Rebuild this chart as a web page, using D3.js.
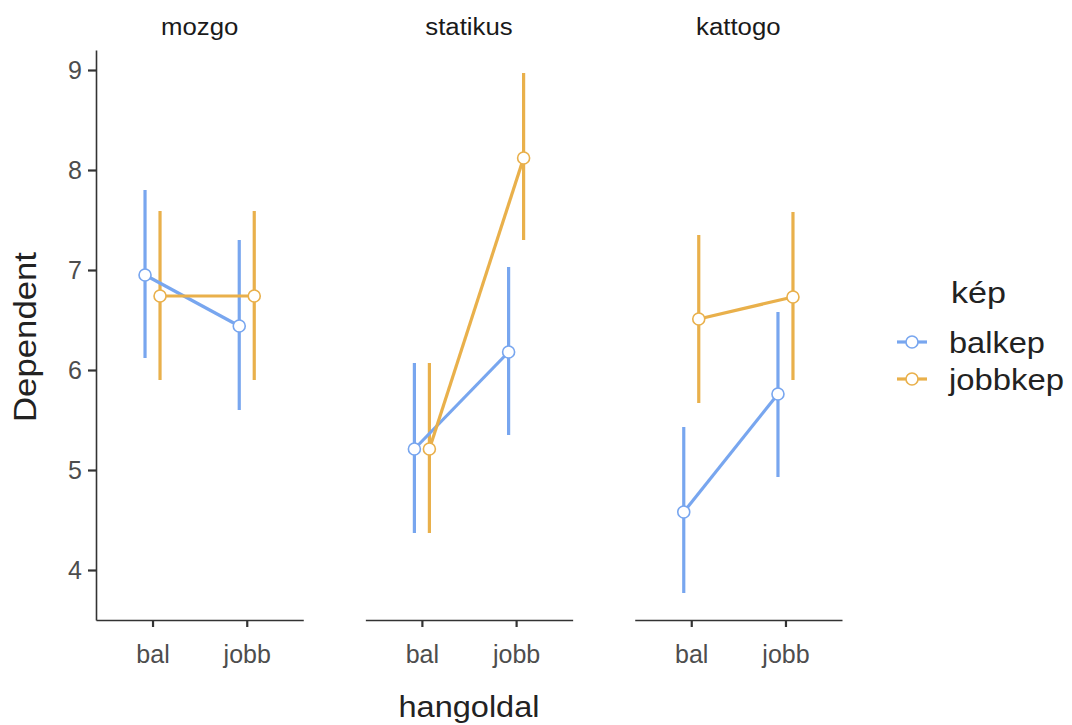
<!DOCTYPE html>
<html>
<head>
<meta charset="utf-8">
<script src="https://cdn.jsdelivr.net/npm/d3@7"></script>
<style>
  body { margin: 0; background: #fff; }
  text { font-family: "Liberation Sans", Arial, sans-serif; }
</style>
</head>
<body>
<div id="chart"></div>
<script>
// facets, x categories and groups
let panels = ["mozgo", "statikus", "kattogo"];
let sides = ["bal", "jobb"];
let groups = ["balkep", "jobbkep"];
let yTicks = [4, 5, 6, 7, 8, 9];

// values in order: mozgo bal, mozgo jobb, statikus bal, statikus jobb, kattogo bal, kattogo jobb
let balkepMean = [6.95, 6.44, 5.21, 6.18, 4.58, 5.76];
let balkepLow = [6.12, 5.60, 4.37, 5.35, 3.77, 4.93];
let balkepHigh = [7.80, 7.30, 6.07, 7.03, 5.43, 6.58];
let jobbkepMean = [6.74, 6.74, 5.21, 8.12, 6.51, 6.73];
let jobbkepLow = [5.90, 5.90, 4.37, 7.30, 5.67, 5.90];
let jobbkepHigh = [7.59, 7.59, 6.07, 8.97, 7.35, 7.58];

let colors = { balkep: "#78a6ef", jobbkep: "#e9b04b" };

// build rows for drawing
let series = {
    balkep: [balkepMean, balkepLow, balkepHigh],
    jobbkep: [jobbkepMean, jobbkepLow, jobbkepHigh]
};
let rows = [];
groups.forEach(function(g) {
    panels.forEach(function(p, pi) {
        sides.forEach(function(s, si) {
            let i = pi * 2 + si;
            rows.push({ group: g, panel: p, side: s, mean: series[g][0][i], low: series[g][1][i], high: series[g][2][i] });
        });
    });
});

let width = 1072, height = 725;
let svg = d3.select("#chart").append("svg")
    .attr("width", width)
    .attr("height", height);

let panelScale = d3.scaleBand().domain(panels).range([96, 842]).paddingInner(0.2305).paddingOuter(0);
let bw = panelScale.bandwidth();
let x = d3.scalePoint().domain(sides).range([0, bw]).padding(0.6);
let dodge = d3.scalePoint().domain(groups).range([-7.5, 7.5]);
let y = d3.scaleLinear().domain([3.5, 9.2]).range([620, 50]);

let xpos = d => panelScale(d.panel) + x(d.side) + dodge(d.group);

let axisColor = "#333333";

// y axis (first panel only)
let yAxis = svg.append("g")
    .attr("transform", "translate(96,0)")
    .call(d3.axisLeft(y).tickValues(yTicks).tickSizeInner(8).tickSizeOuter(0).tickPadding(6).tickFormat(d3.format("d")));
yAxis.select(".domain").attr("stroke", axisColor).attr("stroke-width", 1.6);
yAxis.selectAll(".tick line").attr("stroke", axisColor).attr("stroke-width", 2.2);
yAxis.selectAll(".tick text").attr("font-size", 25).attr("fill", "#4d4d4d").attr("font-family", "Liberation Sans, Arial, sans-serif");

// panels: x axis + strip label
panels.forEach(function(p) {
    let xg = svg.append("g")
        .attr("transform", "translate(" + panelScale(p) + ",620)")
        .call(d3.axisBottom(x).tickSizeInner(7).tickSizeOuter(0).tickPadding(18));
    xg.select(".domain").attr("stroke", axisColor).attr("stroke-width", 1.6);
    xg.selectAll(".tick line").attr("stroke", axisColor).attr("stroke-width", 2.2);
    xg.selectAll(".tick text").attr("font-size", 25).attr("fill", "#4d4d4d").attr("font-family", "Liberation Sans, Arial, sans-serif");

    let strip = svg.append("text")
        .attr("x", panelScale(p) + bw / 2)
        .attr("y", 35)
        .attr("text-anchor", "middle")
        .attr("font-size", 23)
        .attr("fill", "#1a1a1a")
        .text(p);
    let len = strip.node().getComputedTextLength();
    strip.attr("textLength", len * 1.12).attr("lengthAdjust", "spacingAndGlyphs");
});

// error bars
svg.append("g").selectAll("line")
    .data(rows)
    .enter()
    .append("line")
    .attr("x1", xpos).attr("x2", xpos)
    .attr("y1", d => y(d.low)).attr("y2", d => y(d.high))
    .attr("stroke", d => colors[d.group])
    .attr("stroke-width", 3.2);

// connecting lines
let line = d3.line().x(xpos).y(d => y(d.mean));
groups.forEach(function(g) {
    panels.forEach(function(p) {
        let pts = rows.filter(r => r.group == g && r.panel == p);
        svg.append("path")
            .datum(pts)
            .attr("d", line)
            .attr("fill", "none")
            .attr("stroke", colors[g])
            .attr("stroke-width", 3.2);
    });
});

// points
svg.append("g").selectAll("circle")
    .data(rows)
    .enter()
    .append("circle")
    .attr("cx", xpos)
    .attr("cy", d => y(d.mean))
    .attr("r", 6)
    .attr("fill", "#fff")
    .attr("stroke", d => colors[d.group])
    .attr("stroke-width", 1.6);

// axis titles
svg.append("text")
    .attr("x", 469).attr("y", 717)
    .attr("text-anchor", "middle")
    .attr("font-size", 29)
    .attr("textLength", 141).attr("lengthAdjust", "spacingAndGlyphs")
    .attr("fill", "#222")
    .text("hangoldal");

svg.append("text")
    .attr("transform", "translate(36,337) rotate(-90)")
    .attr("text-anchor", "middle")
    .attr("font-size", 31)
    .attr("textLength", 170).attr("lengthAdjust", "spacingAndGlyphs")
    .attr("fill", "#222")
    .text("Dependent");

// legend
let legendY = d3.scalePoint().domain(groups).range([342, 379]);
svg.append("text")
    .attr("x", 951).attr("y", 303)
    .attr("font-size", 29)
    .attr("textLength", 55).attr("lengthAdjust", "spacingAndGlyphs")
    .attr("fill", "#222")
    .text("kép");

let legendWidths = { balkep: 96, jobbkep: 115 };
let legend = svg.append("g").selectAll("g")
    .data(groups)
    .enter()
    .append("g")
    .attr("transform", d => "translate(0," + legendY(d) + ")");
legend.append("line")
    .attr("x1", 897).attr("x2", 927)
    .attr("stroke", d => colors[d])
    .attr("stroke-width", 3.2);
legend.append("circle")
    .attr("cx", 912).attr("r", 6)
    .attr("fill", "#fff")
    .attr("stroke", d => colors[d])
    .attr("stroke-width", 1.6);
legend.append("text")
    .attr("x", 949).attr("y", 11)
    .attr("font-size", 29)
    .attr("textLength", d => legendWidths[d]).attr("lengthAdjust", "spacingAndGlyphs")
    .attr("fill", "#222")
    .text(d => d);
</script>
</body>
</html>
